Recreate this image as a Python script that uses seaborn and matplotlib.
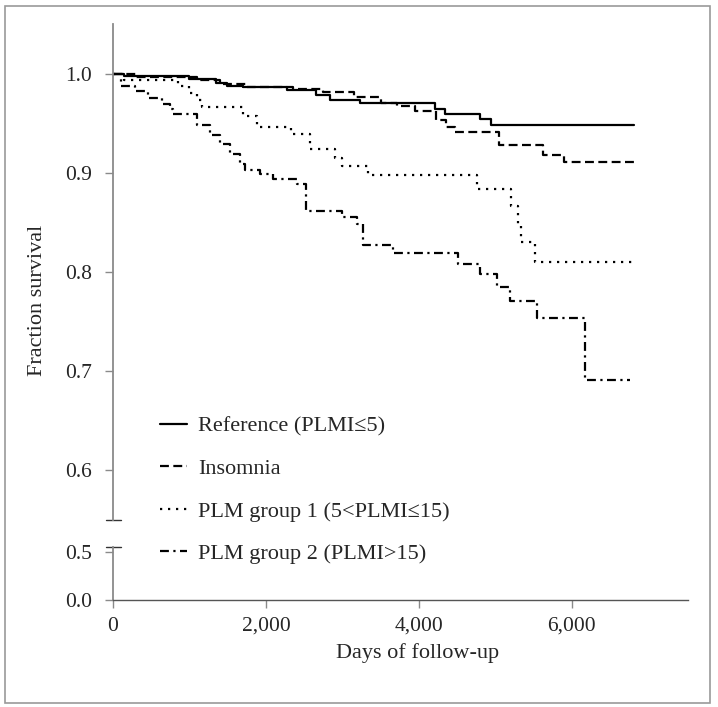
import matplotlib
matplotlib.use("Agg")
import matplotlib.pyplot as plt
from matplotlib.patches import Rectangle
import pandas as pd
import seaborn as sns

# Kaplan-Meier steps (day of step, survival after step)
groups = [
    "Reference (PLMI\u22645)",
    "Insomnia",
    "PLM group 1 (5<PLMI\u226415)",
    "PLM group 2 (PLMI>15)",
]

ref_days = [0, 150, 1000, 1350, 1490, 1700, 2270, 2660, 2840, 3230, 4210, 4340, 4800, 4950, 6820]
ref_surv = [1.0, 0.998, 0.995, 0.991, 0.988, 0.986, 0.983, 0.978, 0.973, 0.970, 0.964, 0.959, 0.954, 0.948, 0.948]

ins_days = [0, 300, 1100, 1400, 1750, 2350, 2750, 3150, 3500, 3720, 3950, 4230, 4360, 4470, 5050, 5620, 5900, 6850]
ins_surv = [1.0, 0.997, 0.994, 0.990, 0.986, 0.984, 0.981, 0.976, 0.970, 0.967, 0.962, 0.953, 0.946, 0.941, 0.928, 0.918, 0.911, 0.911]

plm1_days = [0, 150, 850, 1000, 1100, 1160, 1700, 1880, 2330, 2575, 2900, 2990, 3340, 4760, 5200, 5300, 5340, 5520, 6820]
plm1_surv = [1.0, 0.994, 0.987, 0.980, 0.973, 0.966, 0.957, 0.946, 0.939, 0.924, 0.915, 0.907, 0.898, 0.884, 0.867, 0.847, 0.830, 0.810, 0.810]

plm2_days = [0, 100, 290, 460, 640, 750, 790, 1100, 1270, 1400, 1530, 1660, 1730, 1920, 2090, 2400, 2530,
             3000, 3185, 3270, 3660, 4510, 4800, 5020, 5190, 5540, 6170, 6760]
plm2_surv = [1.0, 0.988, 0.982, 0.975, 0.969, 0.964, 0.959, 0.948, 0.938, 0.929, 0.919, 0.909, 0.903, 0.899,
             0.894, 0.889, 0.861, 0.855, 0.848, 0.827, 0.819, 0.808, 0.798, 0.785, 0.771, 0.754, 0.691, 0.691]

x_ticks = [0, 2000, 4000, 6000]
x_tick_labels = ["0", "2,000", "4,000", "6,000"]
upper_ticks = [0.6, 0.7, 0.8, 0.9, 1.0]
lower_ticks = [0.0, 0.5]

frames = []
for name, d, s in zip(groups, [ref_days, ins_days, plm1_days, plm2_days],
                      [ref_surv, ins_surv, plm1_surv, plm2_surv]):
    frames.append(pd.DataFrame({"day": d, "surv": s, "group": name}))
df = pd.concat(frames, ignore_index=True)

sns.set_style("ticks")
plt.rcParams["font.family"] = ["Liberation Serif", "DejaVu Serif"]
plt.rcParams["font.size"] = 16

W, H = 718, 707
fig = plt.figure(figsize=(W / 100, H / 100), dpi=100)

# broken y axis: upper panel 0.55-1.05, lower panel 0-0.55
ax = fig.add_axes([113 / W, (H - 520) / H, (688 - 113) / W, (520 - 24) / H])
axb = fig.add_axes([113 / W, (H - 600) / H, (688 - 113) / W, (600 - 547) / H], sharex=ax)

dash_map = {
    groups[0]: "",
    groups[1]: (4, 2),
    groups[2]: (1, 2.6),
    groups[3]: (4, 2, 1, 2),
}

sns.lineplot(data=df, x="day", y="surv", style="group", style_order=groups,
             dashes=dash_map, color="black", linewidth=1.6, drawstyle="steps-post",
             estimator=None, errorbar=None, ax=ax, legend=True)

handles, labels = ax.get_legend_handles_labels()
ax.get_legend().remove()
pairs = [(h, l) for h, l in zip(handles, labels) if l in groups]
for h, _ in pairs:
    h.set_linewidth(1.6)
    h.set_color("black")
fig.legend([p[0] for p in pairs], [p[1] for p in pairs],
           loc="upper left", bbox_to_anchor=(160 / W, (H - 416) / H),
           frameon=False, borderpad=0, borderaxespad=0, handlelength=1.2,
           handletextpad=0.5, labelspacing=0.99, fontsize=16)

spine_col = "#8a8a8a"
ax.set_xlim(0, 7520)
ax.set_ylim(0.55, 1.05)
ax.set_yticks(upper_ticks)
ax.set_yticklabels([f"{v:.1f}" for v in upper_ticks])
ax.set_xlabel("")
ax.set_ylabel("")
for side in ["top", "right", "bottom"]:
    ax.spines[side].set_visible(False)
ax.spines["left"].set_color(spine_col)
ax.spines["left"].set_linewidth(1.3)
ax.tick_params(axis="x", bottom=False, labelbottom=False)
ax.tick_params(axis="y", direction="out", length=6, width=1, color=spine_col, pad=9, labelsize=15.5)

axb.set_ylim(0, 0.55)
axb.set_yticks(lower_ticks)
axb.set_yticklabels([f"{v:.1f}" for v in lower_ticks])
axb.set_xticks(x_ticks)
axb.set_xticklabels(x_tick_labels)
axb.set_xlim(0, 7520)
for side in ["top", "right"]:
    axb.spines[side].set_visible(False)
axb.spines["left"].set_color(spine_col)
axb.spines["left"].set_linewidth(1.3)
axb.spines["bottom"].set_color("#555555")
axb.spines["bottom"].set_linewidth(1.0)
axb.tick_params(axis="y", direction="out", length=6, width=1, color=spine_col, pad=9, labelsize=15.5)
axb.tick_params(axis="x", direction="out", length=6, width=1, color=spine_col, pad=6, labelsize=15.5)
axb.patch.set_alpha(0)

# break marks
d = 7 / (688 - 113)
ax.plot([-d, d * 1.1], [0, 0], transform=ax.transAxes, color="#333333", lw=1.0, clip_on=False)
axb.plot([-d, d * 1.1], [1, 1], transform=axb.transAxes, color="#333333", lw=1.0, clip_on=False)

fig.text(418 / W, (H - 653) / H, "Days of follow-up", ha="center", va="center", fontsize=16)
fig.text(38 / W, (H - 300) / H, "Fraction survival", ha="center", va="center",
         rotation=90, fontsize=16)

fig.patches.append(Rectangle((5 / W, (H - 703) / H), (710 - 5) / W, (703 - 6) / H,
                             transform=fig.transFigure, fill=False,
                             edgecolor="#9a9a9a", linewidth=1.2))

fig.savefig("out.png", dpi=100)
